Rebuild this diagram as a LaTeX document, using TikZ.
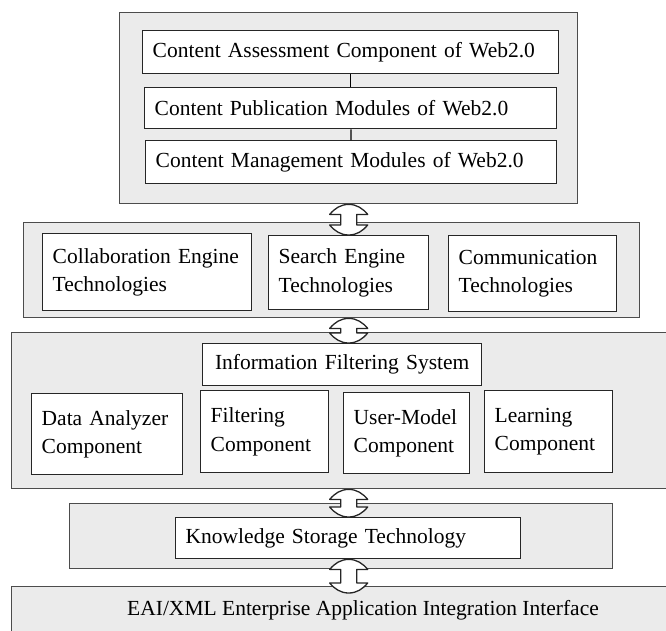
\documentclass[tikz,border=0pt]{standalone}
\usepackage{fontspec}
\setmainfont{Liberation Serif}
\usetikzlibrary{calc}
\def\biarrow(#1)(#2){\draw[biarrow] (#1) .. controls +(-8,0) and +(5,-6) .. ++(-19,10) -- ++(11,0) -- ($(#2)+(-8,-10)$) -- ++(-11,0) .. controls +(5,6) and +(-8,0) .. (#2) .. controls +(8,0) and +(-5,6) .. ++(19,-10) -- ++(-11,0) -- ($(#1)+(8,10)$) -- ++(11,0) .. controls +(-5,-6) and +(8,0) .. cycle;}

\begin{document}
\begin{tikzpicture}[x=1pt, y=-1pt,
    layer/.style={draw=black!70, fill=black!8, line width=1.4pt, anchor=north west, inner sep=0pt},
    unit/.style={draw=black!85, fill=white, line width=1.4pt, anchor=north west, inner xsep=10pt, inner ysep=0pt, align=left, minimum width=#1, text width=#1-20},
    biarrow/.style={draw=black!85, fill=white, line width=1.3pt, line join=round},
    font=\fontsize{21.5}{28.5}\selectfont]
	%%%%% START %%%%%
	\useasboundingbox (0,0) rectangle (666,630);
	
	\node[layer, minimum width=458, minimum height=191] (web) at (119,12) {};
	\node[unit=416, minimum height=43] (assess) at (142,30) {Content Assessment Component of Web2.0};
	\node[unit=412, minimum height=41] (publish) at (144,87) {Content Publication Modules of Web2.0};
	\node[unit=411, minimum height=43] (manage) at (145,140) {Content Management Modules of Web2.0};
	\draw[line width=1.3pt] (assess) -- (publish);
	\draw[line width=1.3pt] (publish) -- (manage);
	
	\node[layer, minimum width=616, minimum height=95] (tech) at (23,222) {};
	\node[unit=209, minimum height=77] (collab) at (42,233) {Collaboration Engine\\Technologies};
	\node[unit=160, minimum height=74] (search) at (268,235) {Search Engine\\Technologies};
	\node[unit=168, minimum height=76] (comm) at (448,235) {Communication\\Technologies};
	
	\node[layer, minimum width=660, minimum height=156] (ifs) at (11,332) {};
	\node[unit=279, minimum height=42, align=center] (info) at (202,343) {Information Filtering System};
	\node[unit=151, minimum height=81] (analyzer) at (31,393) {Data Analyzer\\Component};
	\node[unit=128, minimum height=82] (filter) at (200,390) {Filtering\\Component};
	\node[unit=126, minimum height=81] (usermodel) at (343,392) {User-Model\\Component};
	\node[unit=128, minimum height=82] (learn) at (484,390) {Learning\\Component};
	
	\node[layer, minimum width=543, minimum height=65] (storage) at (69,503) {};
	\node[unit=345, minimum height=41] (know) at (175,517) {Knowledge Storage Technology};
	
	\node[layer, minimum width=660, minimum height=60] (eai) at (11,586) {};
	\node (eaitext) at (363,610) {EAI/XML Enterprise Application Integration Interface};
	
	\coordinate (a1) at (web.south);
	\coordinate (b1) at (web.south |- search.north);
	\coordinate (a2) at (web.south |- tech.south);
	\coordinate (b2) at (web.south |- info.north);
	\coordinate (a3) at (web.south |- ifs.south);
	\coordinate (b3) at (web.south |- know.north);
	\coordinate (a4) at (web.south |- know.south);
	\coordinate (b4) at ($(web.south |- eai.north)+(0,7)$);
	\foreach \i in {1,...,4} {\biarrow(a\i)(b\i)}
	%%%%% END %%%%%
\end{tikzpicture}
\end{document}
